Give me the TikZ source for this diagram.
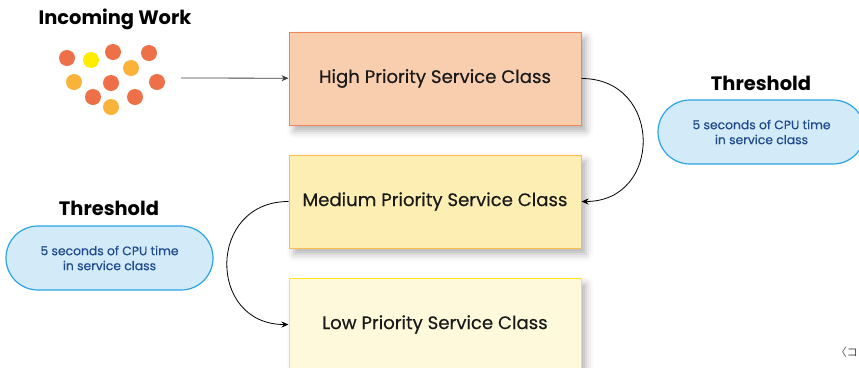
\documentclass[tikz,border=0pt]{standalone}
\usepackage{fontspec}
\setmainfont{Poppins}
\newfontfamily\mediumfont{Poppins}[FakeBold=0.35]
\newfontfamily\cjkfont{Noto Sans CJK JP}
\usepackage{tikz}
\usepackage{xcolor}
\usetikzlibrary{positioning, arrows.meta}
\usetikzlibrary{shadows.blur}

\definecolor{highfill}{HTML}{F8CEAE}
\definecolor{highline}{HTML}{EF8454}
\definecolor{medfill}{HTML}{FDEFB3}
\definecolor{medline}{HTML}{F8BF4B}
\definecolor{lowfill}{HTML}{FEF9DA}
\definecolor{lowline}{HTML}{FFE81A}
\definecolor{pillfill}{HTML}{D3EAF8}
\definecolor{pillline}{HTML}{2AA4E5}
\definecolor{pilltext}{HTML}{1E4A8F}
\definecolor{dotorange}{HTML}{EE7048}
\definecolor{dotamber}{HTML}{F9B33A}
\definecolor{dotyellow}{HTML}{FFEC00}

\begin{document}
\begin{tikzpicture}[x=1bp, y=-1bp, node distance=29bp,
    classbox/.style={rectangle, minimum width=292bp, minimum height=93bp, line width=1bp,
        font=\mediumfont\fontsize{18.2}{21}\selectfont, text=black!90,
        blur shadow={shadow xshift=5bp, shadow yshift=-6bp, shadow blur radius=7bp, shadow opacity=30}},
    pill/.style={rectangle, rounded corners=32bp, minimum width=207bp, minimum height=64bp,
        fill=pillfill, draw=pillline, line width=1.2bp, align=center, text=pilltext,
        font=\mediumfont\fontsize{12.4}{15}\selectfont},
    heading/.style={font=\fontsize{19.5}{22}\selectfont\bfseries},
    flow/.style={-{Stealth[length=7bp, width=6bp]}, line width=0.8bp}]
    \useasboundingbox (0,0) rectangle (859,367);
    \clip (0,0) rectangle (859,367);
    % Incoming work
    \node (incoming) [heading] at (115,19) {Incoming Work};
    \fill[dotorange] (67,58) circle (8);
    \fill[dotyellow] (91,60) circle (8);
    \fill[dotorange] (113,52) circle (8);
    \fill[dotorange] (149,53) circle (8);
    \fill[dotamber] (131,68) circle (8);
    \fill[dotamber] (74,82) circle (8);
    \fill[dotorange] (111,83) circle (8);
    \fill[dotorange] (157,82) circle (8);
    \fill[dotorange] (93,97) circle (8);
    \fill[dotorange] (135,97) circle (8);
    \fill[dotamber] (111,107) circle (8);
    \coordinate (workout) at (181,78);
    % Service classes
    \node (high) [classbox, fill=highfill, draw=highline] at (435,78.5) {High Priority Service Class};
    \node (medium) [classbox, fill=medfill, draw=medline, below=of high] {Medium Priority Service Class};
    \node (low) [classbox, fill=lowfill, draw=lowline, below=of medium] {Low Priority Service Class};
    % Thresholds
    \node (thrright) [heading] at (761,83) {Threshold};
    \node (pillright) [pill] at (761.5,132) {5 seconds of CPU time\\in service class};
    \node (thrleft) [heading] at (109,208) {Threshold};
    \node (pillleft) [pill] at (109.5,258) {5 seconds of CPU time\\in service class};
    % Flow
    \draw[flow, draw=black!75] (workout) -- (high);
    \draw[flow] (high.east) to[out=0, in=0, looseness=1.7] (medium.east);
    \draw[flow] (medium.west) to[out=180, in=180, looseness=1.7] (low.west);
    \node (corner) [anchor=east, inner sep=1bp, text=black!70, font=\cjkfont\fontsize{11}{13}\selectfont] at (859,352) {〈コ};
\end{tikzpicture}
\end{document}
